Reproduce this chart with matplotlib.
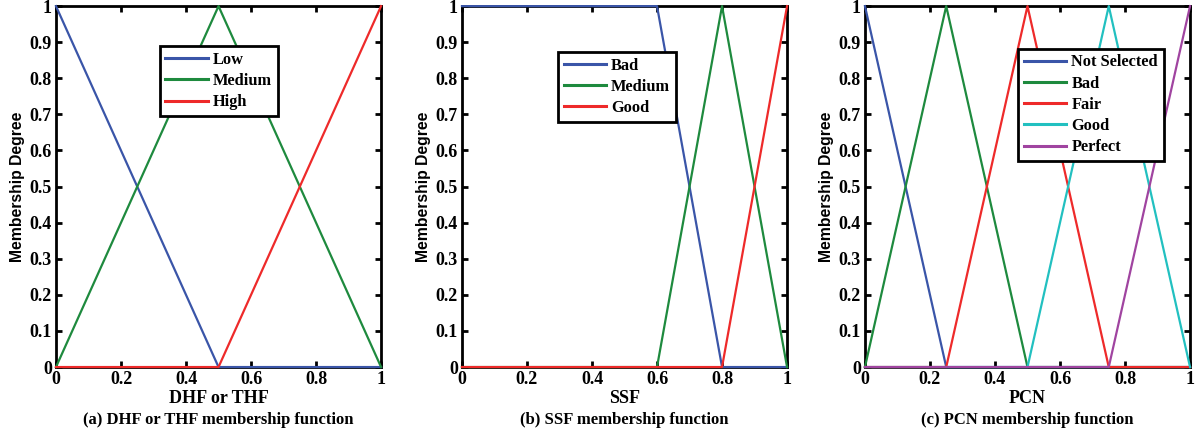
import numpy as np
import matplotlib
matplotlib.use('Agg')
import matplotlib.pyplot as plt

# panel (a) DHF / THF
a_x = [0, 0.5, 1]
a_low = [1, 0, 0]
a_medium = [0, 1, 0]
a_high = [0, 0, 1]
a_labels = ['Low', 'Medium', 'High']

# panel (b) SSF
b_x = [0, 0.6, 0.8, 1]
b_bad = [1, 1, 0, 0]
b_medium = [0, 0, 1, 0]
b_good = [0, 0, 0, 1]
b_labels = ['Bad', 'Medium', 'Good']

# panel (c) PCN
c_x = [0, 0.25, 0.5, 0.75, 1]
c_not_selected = [1, 0, 0, 0, 0]
c_bad = [0, 1, 0, 0, 0]
c_fair = [0, 0, 1, 0, 0]
c_good = [0, 0, 0, 1, 0]
c_perfect = [0, 0, 0, 0, 1]
c_labels = ['Not Selected', 'Bad', 'Fair', 'Good', 'Perfect']

xticks = [0, 0.2, 0.4, 0.6, 0.8, 1]
xtick_labels = ['0', '0.2', '0.4', '0.6', '0.8', '1']
yticks = [0, 0.1, 0.2, 0.3, 0.4, 0.5, 0.6, 0.7, 0.8, 0.9, 1]
ytick_labels = ['0', '0.1', '0.2', '0.3', '0.4', '0.5', '0.6', '0.7', '0.8', '0.9', '1']

blue = '#3a55a8'
green = '#1e8a3e'
red = '#ee2a2a'
cyan = '#22c0c0'
purple = '#a044a0'

serif = 'Liberation Serif'
sans = 'Liberation Sans'

fig = plt.figure(figsize=(12.04, 4.38), dpi=100)

panels = [
    dict(left=0.0465, x=a_x, ys=[a_low, a_medium, a_high], labels=a_labels,
         colors=[blue, green, red], xlabel='DHF or THF',
         caption='(a) DHF or THF membership function', leg=(0.319, 0.889)),
    dict(left=0.3837, x=b_x, ys=[b_bad, b_medium, b_good], labels=b_labels,
         colors=[blue, green, red], xlabel='SSF',
         caption='(b) SSF membership function', leg=(0.295, 0.873)),
    dict(left=0.7184, x=c_x, ys=[c_not_selected, c_bad, c_fair, c_good, c_perfect],
         labels=c_labels, colors=[blue, green, red, cyan, purple], xlabel='PCN',
         caption='(c) PCN membership function', leg=(0.471, 0.882)),
]

for p in panels:
    ax = fig.add_axes([p['left'], 0.162, 0.270, 0.824])
    for y, lab, col in zip(p['ys'], p['labels'], p['colors']):
        ax.plot(p['x'], y, color=col, lw=1.6, label=lab, zorder=3, clip_on=False)
    ax.set_xlim(0, 1)
    ax.set_ylim(0, 1)
    ax.set_xticks(xticks)
    ax.set_xticklabels(xtick_labels, fontfamily=serif, fontweight='bold', fontsize=13)
    ax.set_yticks(yticks)
    ax.set_yticklabels(ytick_labels, fontfamily=serif, fontweight='bold', fontsize=13)
    ax.tick_params(direction='in', top=True, right=True, length=4, width=2, pad=3)
    for s in ax.spines.values():
        s.set_linewidth(2)
    ax.set_xlabel(p['xlabel'], fontfamily=serif, fontweight='bold', fontsize=13, labelpad=1)
    ax.set_ylabel('Membership Degree', fontfamily=sans, fontweight='bold', fontsize=11.3, labelpad=3)
    leg = ax.legend(loc='upper left', bbox_to_anchor=p['leg'], fancybox=False,
                    framealpha=1, edgecolor='black', handlelength=2.6,
                    borderpad=0.35, labelspacing=0.32, handletextpad=0.3,
                    borderaxespad=0,
                    prop={'family': serif, 'weight': 'bold', 'size': 11.8})
    leg.get_frame().set_linewidth(2)
    leg.set_zorder(5)
    for h in leg.get_lines():
        h.set_linewidth(2.2)
    ax.text(0.5, -0.125, p['caption'], transform=ax.transAxes, ha='center', va='top',
            fontfamily=serif, fontweight='bold', fontsize=12)

fig.savefig('out.png', dpi=100)
